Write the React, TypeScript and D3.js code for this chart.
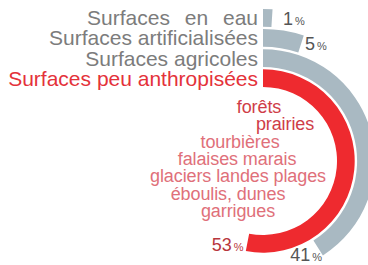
import { useEffect, useRef } from 'react';
import * as d3 from 'd3';

// categories, outermost ring last
const categories = [
  'Surfaces peu anthropisées',
  'Surfaces agricoles',
  'Surfaces artificialisées',
  'Surfaces en eau',
];
const shares = [53, 41, 5, 1];
const highlight = ['Surfaces peu anthropisées'];

const notes = [
  'forêts',
  'prairies',
  'tourbières',
  'falaises marais',
  'glaciers landes plages',
  'éboulis, dunes',
  'garrigues',
];
const strongNotes = ['forêts', 'prairies'];

// label nudges relative to arc end (layout only)
const pctLayout = [
  { dx: -4, dy: 9, anchor: 'end' },
  { dx: -12, dy: 13.5, anchor: 'middle' },
  { dx: 4, dy: 6, anchor: 'start' },
  { dx: 11, dy: 7, anchor: 'start' },
];
const noteX = [-4, 22, -23, -26, -25, -35, -25];

const FONT = '"Liberation Sans", Arial, Helvetica, sans-serif';

export default function App() {
  const svgRef = useRef<SVGSVGElement>(null);
  const width = 368,
    height = 265;
  const cx = 263,
    cy = 161;

  useEffect(() => {
    const svg = d3.select(svgRef.current);
    svg.selectAll('*').remove();

    const angle = d3.scaleLinear().domain([0, 100]).range([0, 2 * Math.PI]);
    const radius = d3
      .scaleBand<string>()
      .domain(categories)
      .range([74, 152])
      .paddingInner(0.12)
      .paddingOuter(0);

    const g = svg.append('g').attr('transform', `translate(${cx},${cy})`);

    const arc = d3
      .arc<any>()
      .innerRadius((d) => radius(d.cat)!)
      .outerRadius((d) => radius(d.cat)! + radius.bandwidth())
      .startAngle(0)
      .endAngle((d) => angle(d.value));

    const rows = categories.map((cat, i) => ({ cat, value: shares[i], i }));
    const isHi = (c: string) => highlight.includes(c);

    g.selectAll('path.ring')
      .data(rows)
      .join('path')
      .attr('class', 'ring')
      .attr('d', arc)
      .attr('fill', (d) => (isHi(d.cat) ? '#ee2a2f' : '#a9b9c2'));

    // category labels to the left of the ring starts
    g.selectAll('text.cat')
      .data(rows)
      .join('text')
      .attr('class', 'cat')
      .attr('x', -5)
      .attr('y', (d) => -(radius(d.cat)! + radius.bandwidth() / 2) + 7.5)
      .attr('text-anchor', 'end')
      .style('font-family', FONT)
      .style('font-size', '21px')
      .style('word-spacing', (d) => (d.cat === 'Surfaces en eau' ? '9px' : '0px'))
      .attr('fill', (d) => (isHi(d.cat) ? '#e4323a' : '#7c7c7c'))
      .text((d) => d.cat);

    // percentage labels at ring ends
    const pct = g
      .selectAll('text.pct')
      .data(rows)
      .join('text')
      .attr('class', 'pct')
      .each(function (d) {
        const r = radius(d.cat)! + radius.bandwidth() / 2;
        const a = angle(d.value);
        const l = pctLayout[d.i];
        d3.select(this)
          .attr('x', r * Math.sin(a) + l.dx)
          .attr('y', -r * Math.cos(a) + l.dy)
          .attr('text-anchor', l.anchor);
      })
      .style('font-family', FONT)
      .attr('fill', (d) => (isHi(d.cat) ? '#b8363d' : '#555'));
    pct
      .append('tspan')
      .style('font-size', '18px')
      .text((d) => `${d.value}`);
    pct
      .append('tspan')
      .style('font-size', '11px')
      .attr('dx', 2)
      .text('%');

    // inner description
    const lineH = 17.3;
    g.selectAll('text.note')
      .data(notes)
      .join('text')
      .attr('class', 'note')
      .attr('x', (d, i) => noteX[i])
      .attr('y', (d, i) => 113 - cy + i * lineH)
      .attr('text-anchor', 'middle')
      .style('font-family', FONT)
      .style('font-size', '18px')
      .style('letter-spacing', '-0.1px')
      .attr('fill', (d) => (strongNotes.includes(d) ? '#cf3d48' : '#e0707a'))
      .text((d) => d);
  }, []);

  return (
    <svg
      ref={svgRef}
      width={width}
      height={height}
      viewBox={`0 0 ${width} ${height}`}
      style={{ position: 'absolute', left: 0, top: 0, background: '#fff' }}
    ></svg>
  );
}
